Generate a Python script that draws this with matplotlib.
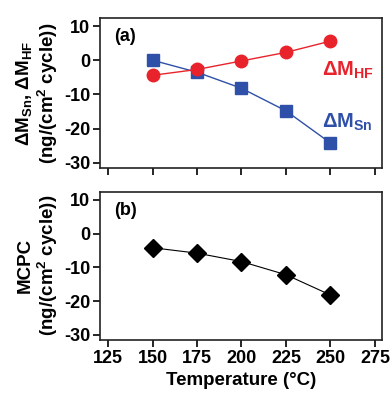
import matplotlib
matplotlib.use('Agg')
import matplotlib.pyplot as plt

# data
temps = [150, 175, 200, 225, 250]
dm_sn = [0.0, -3.5, -8.2, -14.8, -24.2]
dm_hf = [-4.4, -2.7, -0.2, 2.3, 5.6]
mcpc = [-4.2, -5.8, -8.3, -12.2, -18.2]
xticks = [125, 150, 175, 200, 225, 250, 275]
yticks = [10, 0, -10, -20, -30]

red = '#e8232b'
blue = '#2f50a8'

plt.rcParams['font.family'] = ['Liberation Sans', 'DejaVu Sans']
plt.rcParams['font.weight'] = 'bold'
plt.rcParams['axes.unicode_minus'] = False
plt.rcParams['mathtext.fontset'] = 'custom'
plt.rcParams['mathtext.rm'] = 'Liberation Sans:bold'
plt.rcParams['mathtext.it'] = 'Liberation Sans:bold'
plt.rcParams['mathtext.bf'] = 'Liberation Sans:bold'

fig = plt.figure(figsize=(3.91, 3.97), dpi=100)
ax1 = fig.add_axes([0.256, 0.577, 0.721, 0.378])
ax2 = fig.add_axes([0.256, 0.144, 0.721, 0.373])

# (a) mass changes
ax1.plot(temps, dm_hf, color=red, lw=1, marker='o', ms=9, zorder=3)
ax1.plot(temps, dm_sn, color=blue, lw=1, marker='s', ms=9, zorder=2)
ax1.text(0.05, 0.93, '(a)', transform=ax1.transAxes, fontsize=13,
         fontweight='bold', va='top')
ax1.text(245.5, -3.0, r'$\Delta$M$_{\mathregular{HF}}$', color=red, fontsize=14.5,
         fontweight='bold', ha='left', va='center')
ax1.text(245.5, -18.3, r'$\Delta$M$_{\mathregular{Sn}}$', color=blue, fontsize=14.5,
         fontweight='bold', ha='left', va='center')
ax1.set_ylabel('$\\Delta$M$_{\\mathregular{Sn}}$, $\\Delta$M$_{\\mathregular{HF}}$\n(ng/(cm$^{\\mathregular{2}}$ cycle))',
               fontsize=13.5, fontweight='bold', labelpad=3, linespacing=1.1)

# (b) MCPC
ax2.plot(temps, mcpc, color='black', lw=0.8, marker='D', ms=9, zorder=3)
ax2.text(0.05, 0.93, '(b)', transform=ax2.transAxes, fontsize=13,
         fontweight='bold', va='top')
ax2.set_ylabel('MCPC\n(ng/(cm$^{\\mathregular{2}}$ cycle))', fontsize=13.5,
               fontweight='bold', labelpad=3, linespacing=1.1)
ax2.set_xlabel('Temperature (\u00b0C)', fontsize=13.5, fontweight='bold', labelpad=4)

for ax in (ax1, ax2):
    ax.set_xlim(120.5, 279)
    ax.set_ylim(-31.5, 12.4)
    ax.set_xticks(xticks)
    ax.set_yticks(yticks)
    ax.tick_params(direction='out', length=5, width=1.2, labelsize=13, pad=2)
    for s in ax.spines.values():
        s.set_linewidth(1.2)
        s.set_color('#222222')
    for lab in ax.get_yticklabels() + ax.get_xticklabels():
        lab.set_fontweight('bold')
ax1.set_xticklabels([])

fig.savefig('out.png', dpi=100)
